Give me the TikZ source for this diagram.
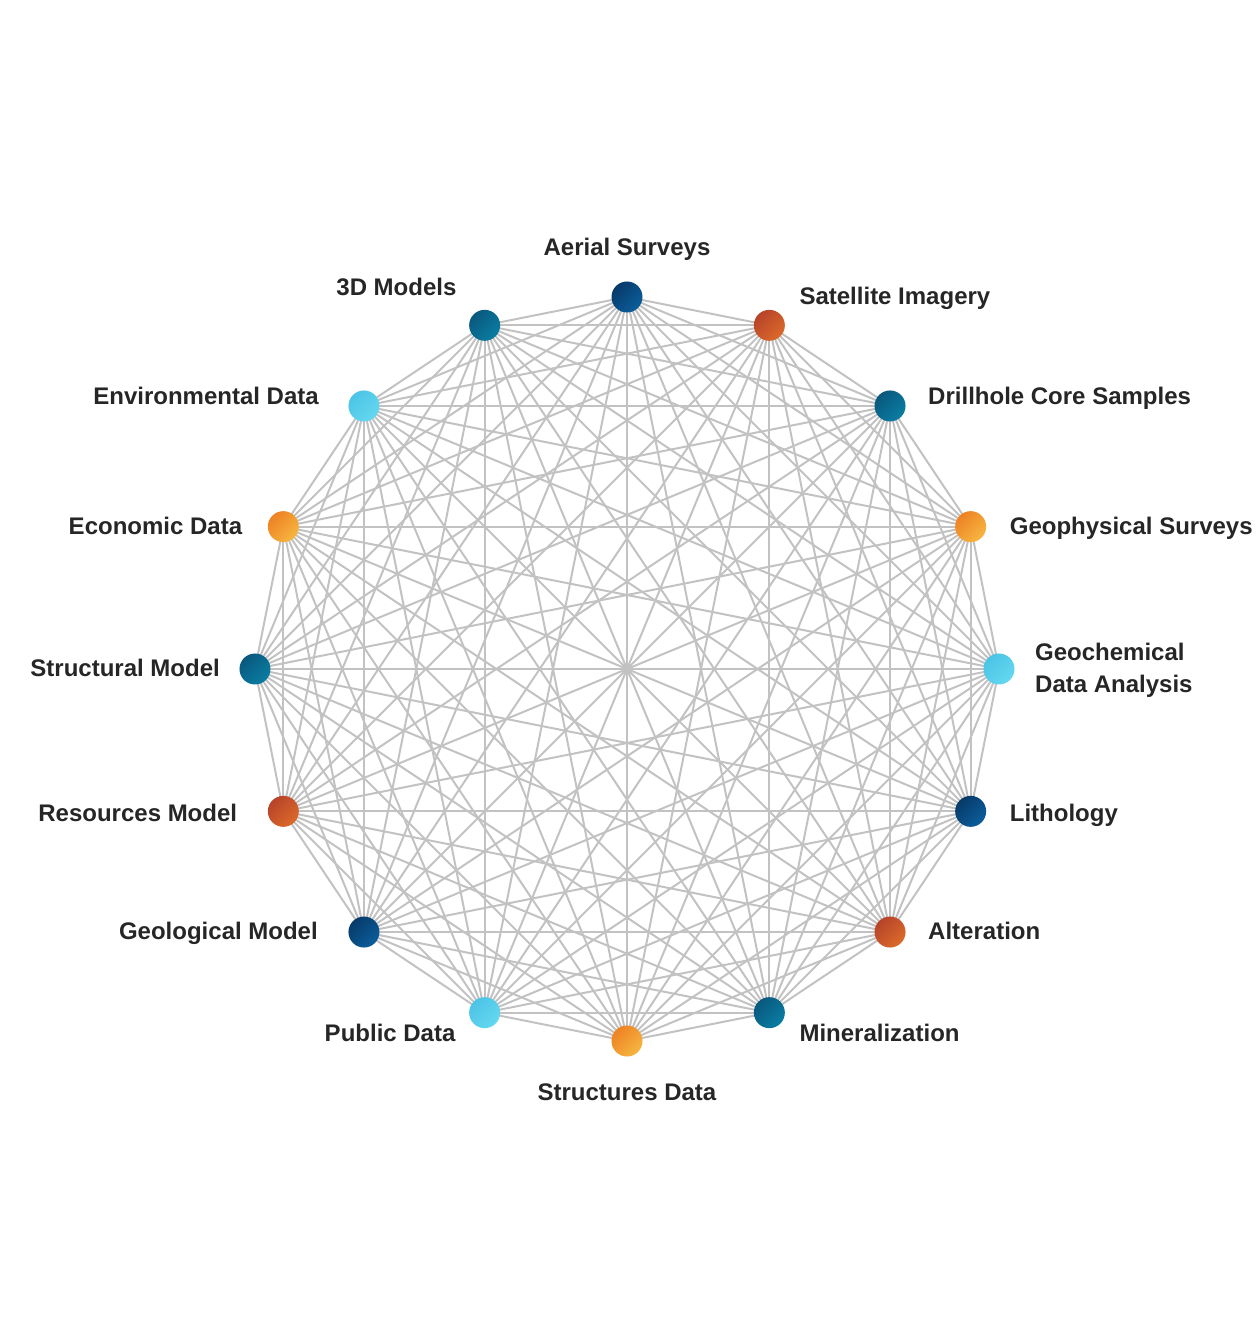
\documentclass[tikz,border=0pt]{standalone}
\usepackage{fontspec}
\setmainfont{Liberation Sans}
\usepackage{tikz}
\usetikzlibrary{calc,backgrounds}

\definecolor{navyA}{HTML}{073A69}
\definecolor{navyB}{HTML}{0B5E9C}
\definecolor{tealA}{HTML}{0A587E}
\definecolor{tealB}{HTML}{0A7DA2}
\definecolor{rustA}{HTML}{B7432A}
\definecolor{rustB}{HTML}{DB6A2A}
\definecolor{amberA}{HTML}{EE8224}
\definecolor{amberB}{HTML}{F6B640}
\definecolor{skyA}{HTML}{4CC4E6}
\definecolor{skyB}{HTML}{64D8F0}
\definecolor{inkgray}{HTML}{262626}
\definecolor{wiregray}{HTML}{C2C2C2}

\tikzset{
  dot/.style 2 args={circle, inner sep=0pt, minimum size=31pt, top color=#1, bottom color=#2, shading angle=45},
  lbl/.style={text=inkgray, font=\fontsize{24}{32}\selectfont\bfseries, inner sep=0pt},
  wire/.style={draw=wiregray, line width=2pt}
}

\begin{document}
\begin{tikzpicture}[x=1pt, y=1pt]
			%%%%% START %%%%%
			\useasboundingbox (-627, -674) rectangle (629, 669);
			\def\R{372}
			
			\node[dot={navyA}{navyB}] (aerial) at (90:\R) {};
			\node[dot={tealA}{tealB}] (models) at (112.5:\R) {};
			\node[dot={skyA}{skyB}] (envir) at (135:\R) {};
			\node[dot={amberA}{amberB}] (econ) at (157.5:\R) {};
			\node[dot={tealA}{tealB}] (structm) at (180:\R) {};
			\node[dot={rustA}{rustB}] (resm) at (202.5:\R) {};
			\node[dot={navyA}{navyB}] (geolm) at (225:\R) {};
			\node[dot={skyA}{skyB}] (public) at (247.5:\R) {};
			\node[dot={amberA}{amberB}] (structd) at (270:\R) {};
			\node[dot={tealA}{tealB}] (miner) at (292.5:\R) {};
			\node[dot={rustA}{rustB}] (alter) at (315:\R) {};
			\node[dot={navyA}{navyB}] (litho) at (337.5:\R) {};
			\node[dot={skyA}{skyB}] (geochem) at (0:\R) {};
			\node[dot={amberA}{amberB}] (geophys) at (22.5:\R) {};
			\node[dot={tealA}{tealB}] (drill) at (45:\R) {};
			\node[dot={rustA}{rustB}] (sat) at (67.5:\R) {};
			
			% every pair joined, behind the dots
			\begin{scope}[on background layer]
			\foreach \a [count=\i] in {aerial,models,envir,econ,structm,resm,geolm,public,structd,miner,alter,litho,geochem,geophys,drill,sat}{
				\foreach \b [count=\j] in {aerial,models,envir,econ,structm,resm,geolm,public,structd,miner,alter,litho,geochem,geophys,drill,sat}{
					\ifnum\j>\i \draw[wire] (\a.center) -- (\b.center); \fi
				}
			}
			\end{scope}
			
			\node[lbl, anchor=mid] (aerialTxt) at ($(aerial)+(0, 44)$) {Aerial Surveys};
			\node[lbl, anchor=mid east] (modelsTxt) at ($(models)+(-28, 32)$) {3D Models};
			\node[lbl, anchor=mid east] (envirTxt) at ($(envir)+(-45, 4)$) {Environmental Data};
			\node[lbl, anchor=mid east] (econTxt) at ($(econ)+(-41, -5)$) {Economic Data};
			\node[lbl, anchor=mid east] (structmTxt) at ($(structm)+(-35, -5)$) {Structural Model};
			\node[lbl, anchor=mid east] (resmTxt) at ($(resm)+(-46, -8)$) {Resources Model};
			\node[lbl, anchor=mid east] (geolmTxt) at ($(geolm)+(-46, -5)$) {Geological Model};
			\node[lbl, anchor=mid east] (publicTxt) at ($(public)+(-29, -26)$) {Public Data};
			\node[lbl, anchor=mid] (structdTxt) at ($(structd)+(0, -57)$) {Structures Data};
			\node[lbl, anchor=mid west] (minerTxt) at ($(miner)+(30, -26)$) {Mineralization};
			\node[lbl, anchor=mid west] (alterTxt) at ($(alter)+(38, -5)$) {Alteration};
			\node[lbl, anchor=mid west] (lithoTxt) at ($(litho)+(39, -8)$) {Lithology};
			\node[lbl, anchor=west, align=left] (geochemTxt) at ($(geochem)+(36, -1)$) {Geochemical\\Data Analysis};
			\node[lbl, anchor=mid west] (geophysTxt) at ($(geophys)+(39, -5)$) {Geophysical Surveys};
			\node[lbl, anchor=mid west] (drillTxt) at ($(drill)+(38, 4)$) {Drillhole Core Samples};
			\node[lbl, anchor=mid west] (satTxt) at ($(sat)+(30, 23)$) {Satellite Imagery};
			%%%%% END %%%%%
\end{tikzpicture}
\end{document}
